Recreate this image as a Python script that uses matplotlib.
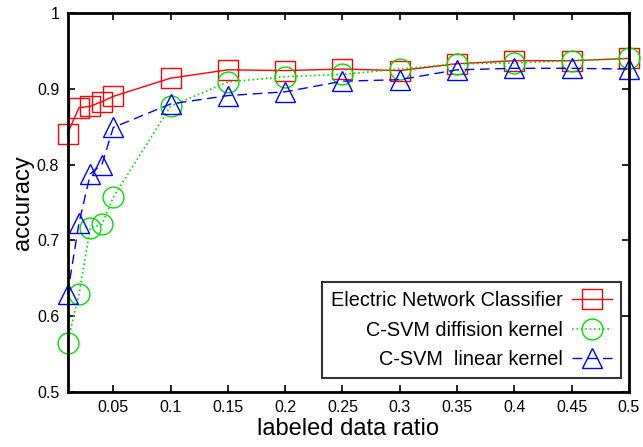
import numpy as np
import matplotlib
matplotlib.use('Agg')
import matplotlib.pyplot as plt

plt.rcParams['font.family'] = ['Liberation Sans', 'DejaVu Sans']

ratio = [0.01, 0.02, 0.03, 0.04, 0.05, 0.1, 0.15, 0.2, 0.25, 0.3, 0.35, 0.4, 0.45, 0.5]
enc = [0.841, 0.875, 0.877, 0.883, 0.890, 0.914, 0.925, 0.924, 0.926, 0.924, 0.933, 0.937, 0.937, 0.940]
svm_diff = [0.565, 0.629, 0.717, 0.721, 0.757, 0.877, 0.909, 0.916, 0.919, 0.926, 0.933, 0.934, 0.937, 0.940]
svm_lin = [0.629, 0.723, 0.788, 0.800, 0.849, 0.880, 0.891, 0.896, 0.910, 0.912, 0.925, 0.927, 0.927, 0.926]

xticks = [0.05, 0.1, 0.15, 0.2, 0.25, 0.3, 0.35, 0.4, 0.45, 0.5]
xticklabels = ['0.05', '0.1', '0.15', '0.2', '0.25', '0.3', '0.35', '0.4', '0.45', '0.5']
yticks = [0.5, 0.6, 0.7, 0.8, 0.9, 1.0]
yticklabels = ['0.5', '0.6', '0.7', '0.8', '0.9', '1']

fig = plt.figure(figsize=(6.43, 4.47), dpi=100)
ax = fig.add_axes([0.105, 0.123, 0.873, 0.848])

ms = 15
ax.plot(ratio, enc, '-', color='#ff0000', lw=1, marker='s', ms=ms, mfc='none', mew=1,
        clip_on=False, label='Electric Network Classifier')
ax.plot(ratio, svm_diff, ':', color='#00dd00', lw=1.2, marker='o', ms=ms, mfc='none', mew=1,
        clip_on=False, label='C-SVM diffision kernel')
ax.plot(ratio, svm_lin, '--', color='#0000ff', lw=1, marker='^', ms=ms, mfc='none', mew=1,
        dashes=(7, 4), clip_on=False, label='C-SVM  linear kernel')

ax.set_xlim(0.01, 0.5)
ax.set_ylim(0.5, 1.0)
ax.set_xticks(xticks)
ax.set_xticklabels(xticklabels)
ax.set_yticks(yticks)
ax.set_yticklabels(yticklabels)
ax.tick_params(direction='in', top=True, right=True, length=5, width=1.2, labelsize=11.5, pad=6)
for s in ax.spines.values():
    s.set_linewidth(2)

ax.set_xlabel('labeled data ratio', fontsize=17, labelpad=2)
ax.set_ylabel('accuracy', fontsize=17, labelpad=2)

leg = ax.legend(loc='lower right', bbox_to_anchor=(0.986, 0.036), markerfirst=False, fontsize=14.3,
                frameon=True, fancybox=False, edgecolor='black', borderaxespad=0,
                handlelength=2.0, labelspacing=0.55, borderpad=0.45, handletextpad=0.5)
leg.get_frame().set_linewidth(1.5)

fig.savefig('out.png', dpi=100)
